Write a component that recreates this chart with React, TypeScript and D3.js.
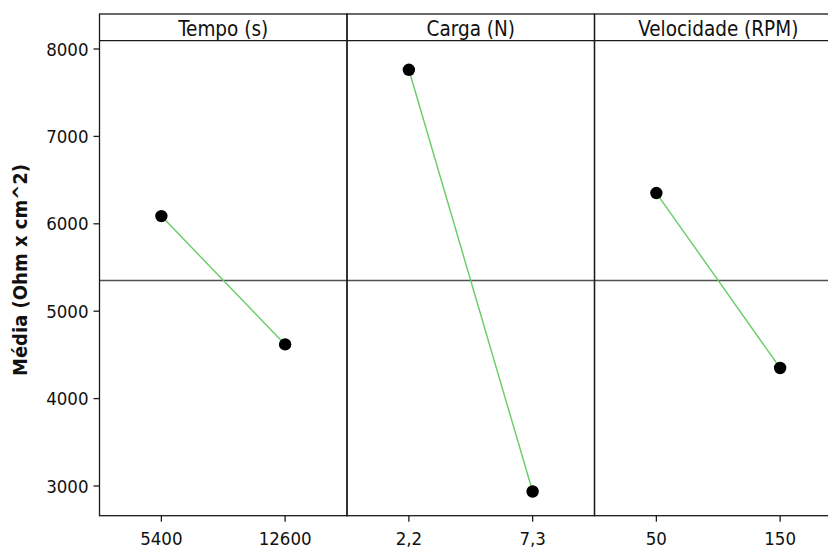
import React from "react";
import * as d3 from "d3";

const factors = ["Tempo (s)", "Carga (N)", "Velocidade (RPM)"];
const levels = [
  ["5400", "12600"],
  ["2,2", "7,3"],
  ["50", "150"],
];
const tempoMeans = [6088, 4620];
const cargaMeans = [7762, 2937];
const velocidadeMeans = [6352, 4350];
const yTicks = [3000, 4000, 5000, 6000, 7000, 8000];
const yLabel = "Média (Ohm x cm^2)";

const W = 828;
const H = 547;
const left = 99.5;
const top = 14;
const headerBottom = 40.7;
const bottom = 515.7;
const panelW = 247.5;
const FONT = "'DejaVu Sans Condensed', 'DejaVu Sans', sans-serif";

export default function App() {
  const means = [tempoMeans, cargaMeans, velocidadeMeans];
  const grand = d3.mean(means.flat()) as number;
  const y = d3.scaleLinear().domain([2660, 8095]).range([bottom, headerBottom]);
  const line = d3
    .line<[number, number]>()
    .x((d) => d[0])
    .y((d) => d[1]);
  const frameColor = "#1a1a1a";
  const right = left + panelW * factors.length;

  return (
    <svg
      width={W}
      height={H}
      style={{ position: "absolute", left: 0, top: 0, display: "block", background: "#fff" }}
      fontFamily={FONT}
    >
      {/* grand mean reference line */}
      <line x1={left} x2={right} y1={y(grand)} y2={y(grand)} stroke="#505050" strokeWidth={1.4} />
      {factors.map((f, i) => {
        const x0 = left + panelW * i;
        const x = d3.scalePoint<string>().domain(levels[i]).range([x0, x0 + panelW]).padding(0.5);
        const pts: [number, number][] = levels[i].map((l, j) => [x(l) as number, y(means[i][j])]);
        return (
          <g key={f}>
            <rect x={x0} y={top} width={panelW} height={bottom - top} fill="none" stroke={frameColor} strokeWidth={1.3} />
            <line x1={x0} x2={x0 + panelW} y1={headerBottom} y2={headerBottom} stroke={frameColor} strokeWidth={1.3} />
            <text x={x0 + panelW / 2} y={35.5} textAnchor="middle" fontSize={20.5} fill="#111">
              {f}
            </text>
            <path d={line(pts) || ""} fill="none" stroke="#66cc66" strokeWidth={1.4} />
            {pts.map((p, j) => (
              <circle key={j} cx={p[0]} cy={p[1]} r={6.2} fill="#000" />
            ))}
            {levels[i].map((l) => (
              <g key={l}>
                <line x1={x(l)} x2={x(l)} y1={bottom} y2={bottom + 6} stroke={frameColor} strokeWidth={1.3} />
                <text x={x(l)} y={544.5} textAnchor="middle" fontSize={18.5} fill="#111">
                  {l}
                </text>
              </g>
            ))}
          </g>
        );
      })}
      {yTicks.map((t) => (
        <g key={t}>
          <line x1={left - 6} x2={left} y1={y(t)} y2={y(t)} stroke={frameColor} strokeWidth={1.3} />
          <text x={left - 11} y={y(t)} dy="0.36em" textAnchor="end" fontSize={18.5} fill="#111">
            {t}
          </text>
        </g>
      ))}
      <text
        transform={`translate(27, 270) rotate(-90)`}
        textAnchor="middle"
        fontSize={20}
        fontWeight="bold"
        fill="#111"
      >
        {yLabel}
      </text>
    </svg>
  );
}
